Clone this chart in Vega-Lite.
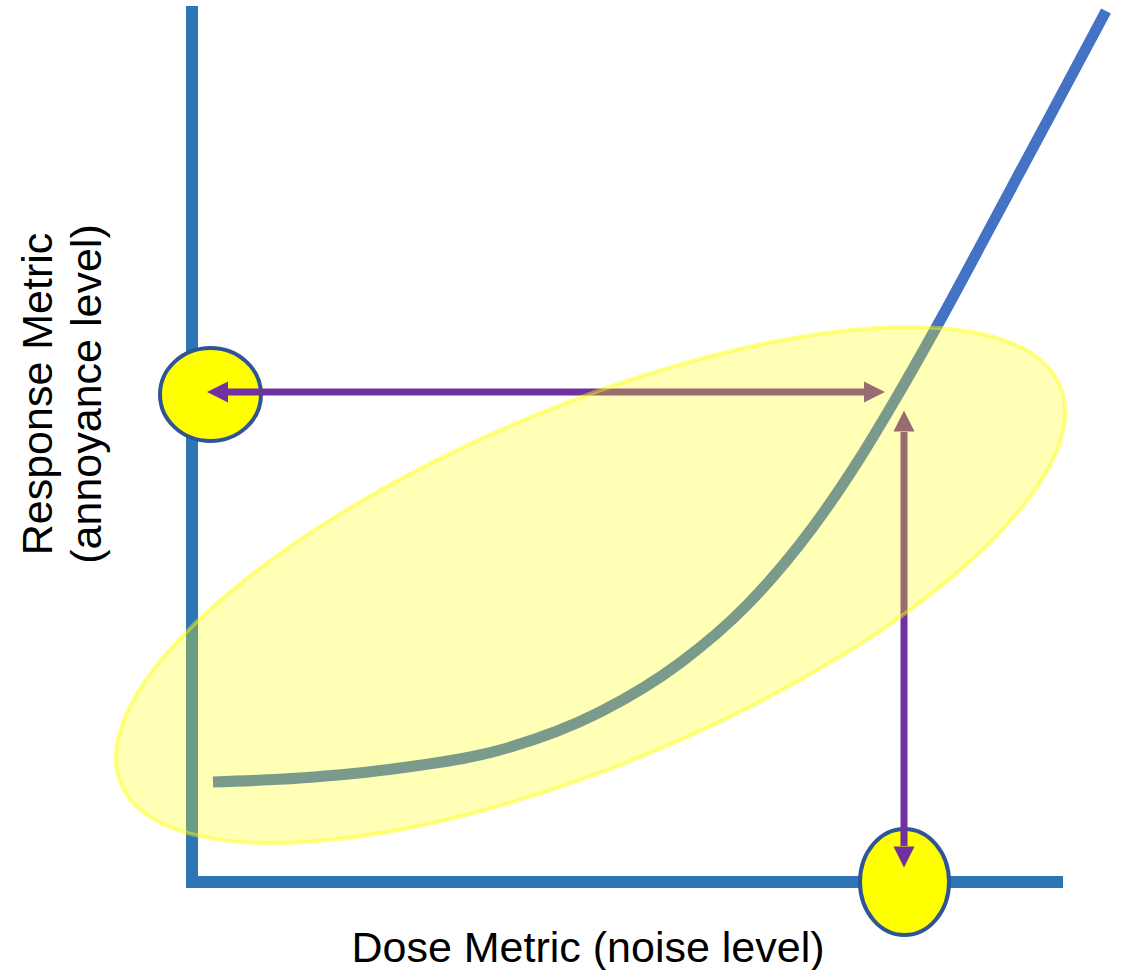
{
  "$schema": "https://vega.github.io/schema/vega-lite/v6.json",
  "width": 1124,
  "height": 970,
  "autosize": {"type": "none"},
  "padding": 0,
  "background": "white",
  "config": {"view": {"stroke": null}},
  "datasets": {
    "axes": [
      {"part": "response axis", "x": 192, "x2": 192, "y": 6, "y2": 888},
      {"part": "dose axis", "x": 186, "x2": 1063, "y": 882, "y2": 882}
    ],
    "curve": [
      {"x": 213, "y": 782},
      {"x": 300, "y": 778},
      {"x": 400, "y": 768},
      {"x": 500, "y": 750},
      {"x": 600, "y": 712},
      {"x": 680, "y": 663},
      {"x": 747, "y": 605},
      {"x": 813, "y": 527},
      {"x": 860, "y": 458},
      {"x": 895, "y": 400},
      {"x": 942, "y": 317},
      {"x": 990, "y": 228},
      {"x": 1050, "y": 116},
      {"x": 1106, "y": 11}
    ],
    "spread": [{"x": 590.5, "y": 585}],
    "responseMark": [{"x": 210.5, "y": 394.5}],
    "doseMark": [{"x": 904.5, "y": 882}],
    "shafts": [
      {"x": 228, "x2": 864, "y": 392, "y2": 392},
      {"x": 904, "x2": 904, "y": 432, "y2": 846}
    ],
    "heads": [
      {"dir": "left", "x": 217.5, "y": 392},
      {"dir": "right", "x": 874.5, "y": 392},
      {"dir": "up", "x": 904, "y": 421},
      {"dir": "down", "x": 904, "y": 857}
    ],
    "ylabel": [
      {"label": "Response Metric", "x": 52, "y": 394},
      {"label": "(annoyance level)", "x": 101, "y": 394}
    ],
    "xlabel": [
      {"label": "Dose Metric (noise level)", "x": 588, "y": 962}
    ]
  },
  "encoding": {
    "x": {"field": "x", "type": "quantitative", "scale": {"domain": [0, 1124], "nice": false, "zero": false}, "axis": null},
    "y": {"field": "y", "type": "quantitative", "scale": {"domain": [0, 970], "nice": false, "zero": false, "reverse": true}, "axis": null}
  },
  "layer": [
    {
      "data": {"name": "axes"},
      "mark": {"type": "rule", "color": "#2E75B6", "strokeWidth": 12, "strokeCap": "butt"},
      "encoding": {
        "x2": {"field": "x2"},
        "y2": {"field": "y2"}
      }
    },
    {
      "data": {"name": "curve"},
      "mark": {"type": "line", "color": "#4472C4", "strokeWidth": 11, "interpolate": "monotone", "strokeCap": "butt"},
      "encoding": {}
    },
    {
      "data": {"name": "responseMark"},
      "mark": {
        "type": "point", "filled": true, "opacity": 1,
        "fill": "#FFFF00", "stroke": "#2F5597", "strokeWidth": 4,
        "size": 10201,
        "shape": "M -1 0 C -1 -0.5081 -0.5523 -0.92 0 -0.92 C 0.5523 -0.92 1 -0.5081 1 0 C 1 0.5081 0.5523 0.92 0 0.92 C -0.5523 0.92 -1 0.5081 -1 0 Z"
      }
    },
    {
      "data": {"name": "doseMark"},
      "mark": {
        "type": "point", "filled": true, "opacity": 1,
        "fill": "#FFFF00", "stroke": "#2F5597", "strokeWidth": 4,
        "size": 11236,
        "shape": "M -0.84 0 C -0.84 -0.5523 -0.4639 -1 0 -1 C 0.4639 -1 0.84 -0.5523 0.84 0 C 0.84 0.5523 0.4639 1 0 1 C -0.4639 1 -0.84 0.5523 -0.84 0 Z"
      }
    },
    {
      "data": {"name": "shafts"},
      "mark": {"type": "rule", "color": "#7030A0", "strokeWidth": 7, "strokeCap": "butt"},
      "encoding": {
        "x2": {"field": "x2"},
        "y2": {"field": "y2"}
      }
    },
    {
      "data": {"name": "heads"},
      "mark": {"type": "point", "filled": true, "opacity": 1, "color": "#7030A0", "size": 441},
      "encoding": {
        "shape": {
          "field": "dir", "type": "nominal", "legend": null,
          "scale": {
            "domain": ["left", "right", "up", "down"],
            "range": ["M -1 0 L 1 -1 L 1 1 Z", "M 1 0 L -1 -1 L -1 1 Z", "M 0 -1 L -1 1 L 1 1 Z", "M 0 1 L -1 -1 L 1 -1 Z"]
          }
        }
      }
    },
    {
      "data": {"name": "spread"},
      "mark": {
        "type": "point", "filled": true, "opacity": 1,
        "fill": "#FFFF00", "fillOpacity": 0.29,
        "stroke": "#FFFF00", "strokeOpacity": 0.45, "strokeWidth": 4,
        "size": 1040400, "angle": -23,
        "shape": "M -1 0 C -1 -0.1928 -0.5523 -0.349 0 -0.349 C 0.5523 -0.349 1 -0.1928 1 0 C 1 0.1928 0.5523 0.349 0 0.349 C -0.5523 0.349 -1 0.1928 -1 0 Z"
      }
    },
    {
      "data": {"name": "ylabel"},
      "mark": {"type": "text", "angle": 270, "align": "center", "baseline": "alphabetic", "font": "Liberation Sans", "fontSize": 43, "color": "#000000"},
      "encoding": {"text": {"field": "label"}}
    },
    {
      "data": {"name": "xlabel"},
      "mark": {"type": "text", "align": "center", "baseline": "alphabetic", "font": "Liberation Sans", "fontSize": 43, "color": "#000000"},
      "encoding": {"text": {"field": "label"}}
    }
  ]
}
